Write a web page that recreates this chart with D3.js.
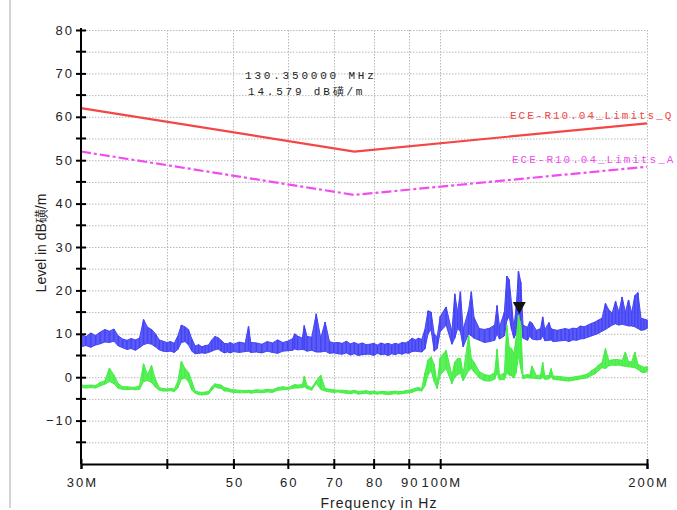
<!DOCTYPE html>
<html>
<head>
<meta charset="utf-8">
<script src="https://cdn.jsdelivr.net/npm/d3@7"></script>
<style>
  body { margin: 0; background: #fff; }
  svg { display: block; }
</style>
</head>
<body>
<div id="chart"></div>
<script>
// sweep frequencies (MHz) and the two detector traces (low/high edge of each band)
const freqs = [
  30, 30.5, 31, 31.5, 32, 32.5, 33, 33.5, 34, 34.5,
  35, 35.5, 36, 36.5, 37, 37.5, 38, 38.5, 39, 39.5,
  40, 40.5, 41, 41.5, 42, 42.5, 43, 43.5, 44, 44.5,
  45, 45.5, 46, 46.5, 47, 47.5, 48, 48.5, 49, 49.5,
  50, 51, 52, 52.6, 53, 54, 55, 56, 57, 58,
  59, 60, 61, 61.4, 62, 63, 63.4, 64, 65, 66,
  67, 68, 69, 70, 71, 72, 73, 74, 75, 76,
  77, 78, 79, 80, 81, 82, 83, 84, 85, 86,
  87, 88, 89, 90, 91, 92, 93, 94, 95, 96,
  97, 98, 99, 100, 102, 104, 105, 106, 107, 108,
  110, 111, 112, 114, 116, 118, 120, 121, 122, 124,
  125, 126, 127, 128, 129, 130, 131, 132, 134, 135,
  136, 138, 140, 141, 142, 144, 145, 146, 148, 150,
  152, 154, 156, 158, 160, 162, 164, 166, 168, 170,
  172, 174, 176, 178, 180, 182, 184, 186, 188, 190,
  192, 194, 196, 198, 200
];
const peakLo = [
  7.0, 7.3, 6.9, 7.4, 7.7, 8.1, 8.0, 8.3, 7.2, 6.8,
  6.4, 6.6, 6.2, 6.8, 7.5, 7.8, 7.6, 7.0, 6.3, 6.0,
  5.9, 6.0, 5.7, 6.4, 8.0, 8.2, 7.5, 6.0, 5.4, 5.5,
  5.6, 5.5, 5.7, 6.0, 6.3, 6.5, 6.0, 5.6, 5.8, 5.6,
  5.9, 5.7, 5.9, 6.0, 5.7, 5.8, 5.6, 6.0, 5.7, 5.5,
  6.0, 6.1, 6.2, 6.5, 6.3, 6.4, 6.3, 6.0, 6.2, 5.8,
  5.8, 6.0, 5.5, 5.6, 5.4, 5.3, 5.6, 5.1, 5.4, 5.0,
  5.2, 5.3, 5.3, 5.0, 5.5, 5.2, 5.3, 5.0, 5.4, 5.2,
  5.5, 5.3, 5.6, 5.5, 5.9, 6.0, 5.9, 5.8, 6.5, 10.0,
  11.0, 6.0, 6.6, 10.5, 12.0, 7.6, 9.0, 11.2, 10.5, 7.0,
  10.0, 9.5, 9.0, 8.5, 8.0, 8.2, 8.5, 10.0, 8.8, 9.5,
  13.0, 14.0, 11.0, 9.0, 10.0, 14.0, 13.0, 9.0, 8.5, 9.5,
  8.8, 8.6, 8.7, 9.5, 8.4, 8.5, 8.6, 8.2, 8.3, 8.4,
  8.5, 8.2, 8.6, 8.5, 8.8, 8.9, 9.2, 9.5, 9.8, 10.1,
  10.6, 11.0, 11.5, 12.0, 12.3, 12.0, 12.2, 12.0, 11.8, 11.8,
  11.6, 11.2, 10.8, 10.9, 11.2
];
const peakHi = [
  10.0, 9.3, 10.2, 9.6, 10.4, 11.0, 10.6, 11.1, 9.5, 8.8,
  8.5, 8.9, 8.6, 9.0, 13.3, 11.5, 11.0, 10.0, 8.6, 8.3,
  8.0, 8.2, 7.8, 9.5, 12.0, 11.6, 11.0, 8.8, 7.2, 7.5,
  7.0, 7.3, 7.4, 8.6, 9.4, 9.1, 8.5, 7.8, 7.7, 8.0,
  7.6, 8.1, 7.8, 11.7, 8.0, 7.9, 7.6, 8.2, 7.9, 8.6,
  8.0, 8.3, 8.9, 10.0, 9.5, 9.0, 11.9, 9.4, 9.2, 14.6,
  9.0, 12.7, 8.2, 7.9, 8.0, 7.8, 8.3, 7.7, 8.0, 7.6,
  7.9, 7.5, 7.6, 7.8, 7.4, 7.9, 7.6, 7.8, 7.5, 7.8,
  7.6, 8.0, 7.9, 8.3, 9.0, 8.6, 9.0, 8.7, 11.0, 15.3,
  15.0, 10.0, 9.3, 14.0, 16.2, 10.5, 19.2, 15.0, 19.7, 11.0,
  15.5, 19.7, 13.8, 11.2, 11.0, 11.3, 12.0, 16.5, 11.6, 15.0,
  23.3, 22.5, 17.0, 11.5, 16.0, 24.4, 22.0, 12.0, 11.5, 12.8,
  12.5, 10.8, 11.2, 13.9, 11.0, 12.6, 11.2, 11.0, 10.8, 11.0,
  11.2, 11.0, 11.3, 11.2, 11.8, 11.6, 12.0, 12.4, 12.7, 13.2,
  13.6, 17.0, 15.5, 14.8, 17.5, 15.0, 18.5, 15.0, 17.8, 14.8,
  18.8, 19.5, 13.6, 13.4, 13.2
];
const avgLo = [
  -2.4, -2.5, -2.4, -2.5, -2.0, -1.6, -1.0, -1.5, -2.6, -2.8,
  -2.9, -2.8, -2.9, -2.8, -1.0, -0.8, -1.2, -2.3, -3.0, -3.2,
  -3.2, -3.1, -3.3, -2.5, -0.5, -0.2, -1.0, -3.0, -3.7, -4.0,
  -4.1, -4.0, -3.9, -3.0, -2.2, -2.5, -2.6, -3.2, -3.2, -3.4,
  -3.5, -3.6, -3.6, -3.5, -3.7, -3.5, -3.6, -3.4, -3.5, -3.0,
  -2.9, -2.8, -2.6, -2.5, -2.5, -2.4, -2.2, -2.6, -3.0, -1.4,
  -2.8, -3.2, -3.4, -3.5, -3.4, -3.6, -3.7, -3.8, -3.6, -3.9,
  -3.8, -3.7, -3.9, -3.8, -3.9, -3.8, -3.9, -4.0, -3.9, -3.8,
  -3.9, -3.8, -3.7, -3.6, -3.5, -3.2, -3.0, -3.2, -2.0, 0.5,
  1.5, -1.0, -2.6, 0.5, 2.0, -1.5, 0.0, 0.5, 1.0, -0.8,
  1.5, 2.0, 1.2, -0.2, -0.8, -0.9, -0.5, 1.0, -0.6, -0.5,
  1.0, 0.5, 0.3, -0.2, 1.0, 5.0, 2.0, -0.3, -0.1, -0.2,
  -0.2, -0.3, -0.4, 0.0, -0.5, -0.4, 0.1, -0.5, -0.6, -0.7,
  -0.8, -0.9, -0.7, -0.6, -0.4, -0.3, -0.1, 0.4, 0.8, 1.5,
  2.2, 2.0, 2.6, 2.8, 2.7, 2.8, 2.6, 2.5, 2.4, 2.3,
  2.2, 1.8, 1.2, 1.0, 1.3
];
const avgHi = [
  -1.8, -1.9, -1.8, -1.9, -1.2, -0.8, 2.1, 0.5, -1.5, -2.2,
  -2.2, -2.3, -2.3, -2.0, 3.1, 0.6, 2.7, -0.5, -2.4, -2.6,
  -2.7, -2.6, -2.7, -1.0, 3.7, 2.0, 1.2, -1.0, -3.2, -3.4,
  -3.5, -3.4, -3.3, -2.2, -1.5, -1.7, -1.8, -2.4, -2.5, -2.8,
  -2.9, -3.0, -3.1, -3.0, -3.1, -2.9, -3.0, -2.8, -2.9, -2.4,
  -2.2, -2.4, -1.9, -1.7, -1.8, -1.7, 0.2, -1.9, -2.4, -0.9,
  0.5, -2.6, -2.8, -2.9, -3.0, -3.0, -3.1, -3.2, -3.0, -3.3,
  -3.2, -3.1, -3.3, -3.2, -3.4, -3.3, -3.3, -3.4, -3.3, -3.2,
  -3.3, -3.3, -3.1, -3.0, -2.8, -2.5, -2.4, -2.6, 1.0, 4.0,
  4.7, 3.0, -1.5, 4.5, 6.2, 0.5, 3.5, 4.3, 4.3, 0.8,
  9.6, 4.3, 3.5, 1.3, 0.6, 0.4, 1.0, 6.5, 0.4, 1.0,
  12.0, 7.0, 6.6, 5.5, 9.0, 14.3, 12.0, 0.4, 0.6, 0.5,
  2.6, 0.4, 0.5, 3.4, 0.3, 0.4, 2.0, 0.3, 0.2, 0.1,
  0.0, -0.1, 0.0, 0.2, 0.3, 0.5, 0.8, 1.5, 2.0, 2.8,
  3.4, 6.6, 3.8, 4.0, 4.1, 4.0, 3.9, 5.8, 3.6, 3.5,
  5.8, 3.0, 2.6, 2.3, 2.4
];

// ECE-R10.04 limit lines
const limitFreqs = [30, 75, 200];
const limitQ = [62, 52, 58.5];
const limitA = [52, 42, 48.5];

const xTicks = [30, 40, 50, 60, 70, 80, 90, 100, 200];
const xTickLabels = ["30M", "", "50", "60", "70", "80", "90", "100M", "200M"];
const xGrid = [40, 50, 60, 70, 80, 90, 100, 200];
const yTicks = [-10, 0, 10, 20, 30, 40, 50, 60, 70, 80];
const yMinor = [-15, -5, 5, 15, 25, 35, 45, 55, 65, 75];

const markerFreq = 130.35;
const markerLevel = 14.579;
const markerText = ["130.350000 MHz", "14.579 dB磺/m"];

function drawTrace(svg, x, y, rows, color) {
  const band = d3.area()
      .x(d => x(d.f))
      .y0(d => y(d.lo))
      .y1(d => y(d.hi));
  // band body, then the sweep strokes on top so it reads a bit like noise
  svg.append("path")
      .attr("d", band(rows))
      .attr("fill", color).attr("fill-opacity", 0.88)
      .attr("stroke", color).attr("stroke-width", 1);
  svg.append("g").selectAll("line")
      .data(rows)
      .enter().append("line")
      .attr("x1", d => x(d.f)).attr("x2", d => x(d.f))
      .attr("y1", d => y(d.lo)).attr("y2", d => y(d.hi))
      .attr("stroke", color).attr("stroke-width", 1.5);
}

function drawChart() {
  const W = 677, H = 510;
  const svg = d3.select("#chart").append("svg")
      .attr("width", W)
      .attr("height", H)
      .style("background", "#fff");

  const x = d3.scaleLog().domain([30, 200]).range([81, 647]);
  const y = d3.scaleLinear().domain([-20, 80]).range([464, 30]);

  // grey frame edge on the left
  svg.append("rect")
      .attr("x", 9).attr("y", 0)
      .attr("width", 2).attr("height", 508)
      .attr("fill", "#d4d4d4");

  // dotted grid
  const grid = svg.append("g").attr("stroke", "#b8b8b8").attr("stroke-dasharray", "1.5,1.5");
  grid.selectAll("line.h")
      .data(yTicks.concat(yMinor))
      .enter().append("line")
      .attr("x1", 86).attr("x2", x(200))
      .attr("y1", d => y(d) + 0.5).attr("y2", d => y(d) + 0.5);
  grid.selectAll("line.v")
      .data(xGrid)
      .enter().append("line")
      .attr("x1", d => Math.round(x(d)) + 0.5).attr("x2", d => Math.round(x(d)) + 0.5)
      .attr("y1", y(80)).attr("y2", 460);

  // limits
  const limLine = d3.line().x(d => x(d[0])).y(d => y(d[1]));
  svg.append("path")
      .attr("d", limLine(limitFreqs.map((f, i) => [f, limitQ[i]])))
      .attr("fill", "none").attr("stroke", "#f44646").attr("stroke-width", 2.2);
  svg.append("path")
      .attr("d", limLine(limitFreqs.map((f, i) => [f, limitA[i]])))
      .attr("fill", "none").attr("stroke", "#f04cf0").attr("stroke-width", 2.2)
      .attr("stroke-dasharray", "10,3,3,3");

  const legendFont = "'Liberation Mono', 'DejaVu Sans Mono', monospace";
  svg.append("text")
      .attr("x", 510).attr("y", 119)
      .attr("fill", "#f44646")
      .style("font", "11px " + legendFont).style("letter-spacing", "2px")
      .text("ECE-R10.04_Limits_Q");
  svg.append("text")
      .attr("x", 512).attr("y", 163)
      .attr("fill", "#f04cf0")
      .style("font", "11px " + legendFont).style("letter-spacing", "2px")
      .text("ECE-R10.04_Limits_A");

  const peakRows = freqs.map((f, i) => ({ f: f, lo: peakLo[i], hi: peakHi[i] }));
  const avgRows = freqs.map((f, i) => ({ f: f, lo: avgLo[i], hi: avgHi[i] }));
  drawTrace(svg, x, y, peakRows, "#4444f6");
  drawTrace(svg, x, y, avgRows, "#46ee46");

  // marker
  const mx = x(markerFreq), my = y(markerLevel);
  svg.append("path")
      .attr("d", `M${mx - 6.5},${my - 12} L${mx + 6.5},${my - 12} L${mx},${my} Z`)
      .attr("fill", "#111");

  svg.selectAll("text.mk")
      .data(markerText)
      .enter().append("text")
      .attr("class", "mk")
      .attr("x", (d, i) => i ? 248 : 245)
      .attr("y", (d, i) => i ? 95 : 79)
      .attr("fill", "#222")
      .style("font", "11px " + legendFont).style("letter-spacing", "2.8px")
      .text(d => d);

  // axes
  const tickFont = "13px 'Liberation Sans', Arial, sans-serif";
  const yAxis = svg.append("g")
      .attr("transform", "translate(81,0)")
      .call(d3.axisLeft(y).tickValues(yTicks).tickSizeOuter(0).tickSize(5));
  yAxis.select(".domain").attr("stroke-width", 2).attr("d", `M0,${y(80) - 2}V${y(-20)}`);
  yAxis.selectAll(".tick line").attr("x1", 5).attr("x2", -5).attr("stroke-width", 2);
  yAxis.selectAll(".tick text")
      .attr("x", -7)
      .attr("fill", "#222")
      .style("font", tickFont).style("letter-spacing", "2px");

  yAxis.selectAll("line.minor")
      .data(yMinor)
      .enter().append("line")
      .attr("x1", -5).attr("x2", 5)
      .attr("y1", d => y(d)).attr("y2", d => y(d))
      .attr("stroke", "#000").attr("stroke-width", 2);

  const xAxis = svg.append("g")
      .attr("transform", "translate(0,464)")
      .call(d3.axisBottom(x).tickValues(xTicks).tickSizeOuter(0).tickSize(5)
        .tickFormat((d, i) => xTickLabels[i]));
  xAxis.select(".domain").attr("stroke-width", 2);
  xAxis.selectAll(".tick line").attr("y1", -5).attr("y2", 5).attr("stroke-width", 2);
  xAxis.selectAll(".tick text")
      .attr("y", 23).attr("dy", null)
      .attr("dx", "1px")
      .attr("fill", "#222")
      .style("font", tickFont).style("letter-spacing", "2px");

  svg.append("text")
      .attr("x", 379).attr("y", 508)
      .attr("text-anchor", "middle")
      .attr("fill", "#222")
      .style("font", "14px 'Liberation Sans', Arial, sans-serif").style("letter-spacing", "1px")
      .text("Frequency in Hz");

  svg.append("text")
      .attr("transform", "translate(46,243) rotate(-90)")
      .attr("text-anchor", "middle")
      .attr("fill", "#222")
      .style("font", "14px 'Liberation Sans', Arial, sans-serif")
      .text("Level in dB磺/m");
}

drawChart();
</script>
</body>
</html>
